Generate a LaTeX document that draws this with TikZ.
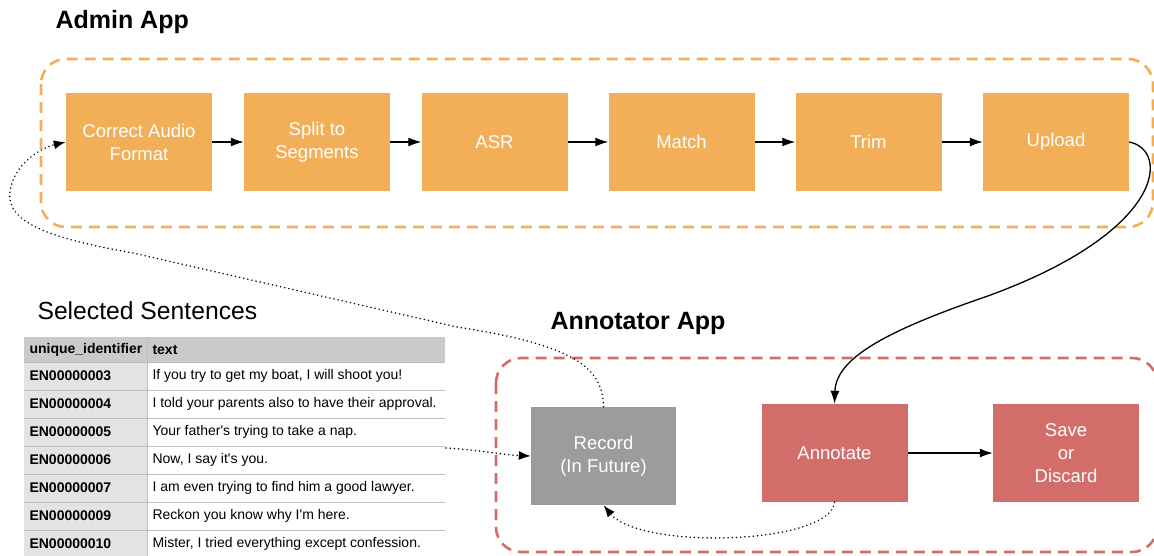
\documentclass[tikz,border=0pt]{standalone}
\usepackage{fontspec}
\setmainfont{Liberation Sans}
\usetikzlibrary{arrows.meta}
\definecolor{adminorange}{HTML}{F2AF57}
\definecolor{annotred}{HTML}{D36D6A}
\definecolor{recgray}{HTML}{9C9C9C}
\definecolor{headgray}{HTML}{C9CAC9}
\definecolor{idgray}{HTML}{E3E3E3}
\definecolor{gridgray}{HTML}{BEBEBE}
\tikzset{
  stage/.style={minimum width=146pt, minimum height=98pt, inner sep=0pt,
    text=white, align=center, font=\fontsize{18.5}{23}\selectfont},
  adminbox/.style={stage, fill=adminorange},
  annotbox/.style={stage, fill=annotred},
  futurebox/.style={stage, fill=recgray},
  group/.style={line width=2.6pt, rounded corners=25pt, dash pattern=on 11pt off 7pt},
  title/.style={font=\fontsize{25}{30}\selectfont\bfseries, anchor=west},
  flow/.style={line width=1.3pt, -{Latex[length=13pt,width=9pt]}},
  hint/.style={line width=1.7pt, dash pattern=on 0.01pt off 4.2pt, line cap=round,
    -{Latex[length=12pt,width=9pt]}},
  cellid/.style={anchor=west, font=\fontsize{14}{16}\selectfont\bfseries},
  celltxt/.style={anchor=west, font=\fontsize{14}{16}\selectfont},
}
\newcommand{\sq}{\textquotesingle}
\begin{document}
\begin{tikzpicture}[x=1pt,y=-1pt]
\useasboundingbox (0,0) rectangle (1154,555);

% ---- Admin App ----
\node[title] (admintitle) at (52,22) {Admin App};
\draw[group, adminorange] (41,59) rectangle (1153,227);
\node[adminbox] (cor) at (139,142) {Correct Audio\\Format};
\node[adminbox] (spl) at (317,142) {Split to\\Segments};
\node[adminbox] (asr) at (494.5,142) {ASR};
\node[adminbox] (mat) at (681.5,142) {Match};
\node[adminbox] (trm) at (868.5,142) {Trim};
\node[adminbox] (upl) at (1056,142) {Upload};
\draw[flow] (cor) -- (spl);
\draw[flow] (spl) -- (asr);
\draw[flow] (asr) -- (mat);
\draw[flow] (mat) -- (trm);
\draw[flow] (trm) -- (upl);

% ---- Annotator App ----
\node[title] (annottitle) at (547,323) {Annotator App};
\draw[group, annotred] (496,358) rectangle (1157,552);
\node[futurebox, minimum width=145pt] (rec) at (603.5,456) {Record\\(In Future)};
\node[annotbox] (ann) at (834.5,453) {Annotate};
\node[annotbox] (sav) at (1066,453) {Save\\or\\Discard};
\draw[flow] (ann) -- (sav);

% upload hands segments over to the annotator
\draw[flow] (upl.east) .. controls (1170,150) and (1166,232) .. (985,297)
  .. controls (880,333) and (836,360) .. (ann.north);

% ---- Selected Sentences table ----
\node[anchor=west, font=\fontsize{24.7}{30}\selectfont] (seltitle) at (34,311) {Selected Sentences};
\fill[headgray] (24,337) rectangle (445,362);
\fill[idgray] (24,362) rectangle (147,560);
\fill[white] (147,362) rectangle (445,560);
\foreach \i in {0,...,7} {
  \draw[gridgray, line width=0.8pt] (24,362+28*\i) -- (445,362+28*\i);
}
\draw[gridgray, line width=0.8pt] (147,337) -- (147,560);
\node[cellid] (hid) at (26,349.5) {unique\_identifier};
\node[cellid] (htx) at (149,349.5) {text};
\foreach \id/\txt [count=\k from 0] in {
  EN00000003/{If you try to get my boat, I will shoot you!},
  EN00000004/{I told your parents also to have their approval.},
  EN00000005/{Your father\sq s trying to take a nap.},
  EN00000006/{Now, I say it\sq s you.},
  EN00000007/{I am even trying to find him a good lawyer.},
  EN00000009/{Reckon you know why I\sq m here.},
  EN00000010/{Mister, I tried everything except confession.}} {
  \node[cellid] (id\k) at (26,376+28*\k) {\id};
  \node[celltxt] (tx\k) at (149,376+28*\k) {\txt};
}
\coordinate (tabout) at (446,448);

% ---- planned recording paths ----
\draw[hint] (tabout) .. controls (480,450) and (505,455) .. (rec.west);
\draw[hint] (rec.north) .. controls (603,368) and (575,345) .. (457,327)
  -- (133,253) .. controls (60,240) and (5,225) .. (10,192)
  .. controls (13,165) and (40,148) .. (cor.west);
\draw[hint] (ann.south) .. controls (830,545) and (640,550) .. (rec.south);
\end{tikzpicture}
\end{document}
